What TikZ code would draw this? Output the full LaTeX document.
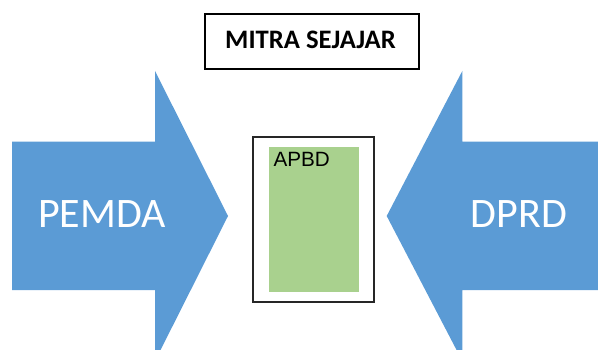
\documentclass[tikz,border=0pt]{standalone}
\usepackage{fontspec}
\setmainfont{Carlito}
\newfontfamily\arialfont{Liberation Sans}
\usetikzlibrary{positioning}
\definecolor{cBlue}{RGB}{91,155,213}
\definecolor{cGreen}{RGB}{169,209,142}
\tikzset{
  bigarrow/.style={fill=cBlue,draw=none},
  arrowtext/.style={text=white,inner sep=0pt,anchor=base west,
                    font=\fontsize{31.5}{36}\selectfont},
  titlebox/.style={rectangle,draw=black,line width=1.2pt,
                   minimum width=160.5pt,minimum height=41.25pt},
  titletext/.style={inner sep=0pt,anchor=base,
                    font=\bfseries\fontsize{20}{24}\selectfont},
  framebox/.style={rectangle,draw=black!85,line width=1.2pt,
                   minimum width=90.75pt,minimum height=123.75pt},
  apbdbox/.style={rectangle,fill=cGreen,draw=none,
                  minimum width=67.5pt,minimum height=108.5pt},
  apbdtext/.style={inner sep=0pt,anchor=base west,
                   font=\arialfont\fontsize{15.5}{18}\selectfont}
}
\begin{document}
\begin{tikzpicture}[x=0.75pt,y=-0.75pt]
  \useasboundingbox (0,0) rectangle (598,349);

  % arrows from both sides
  \fill[bigarrow] (12,141.7) -- (155,141.7) -- (155,71) -- (228,216)
    -- (155,361) -- (155,290) -- (12,290) -- cycle;
  \fill[bigarrow] (598,141.7) -- (462.3,141.7) -- (462.3,71) -- (386.7,216)
    -- (462.3,361) -- (462.3,290) -- (598,290) -- cycle;
  \node[arrowtext] (pemda) at (38,227.7) {PEMDA};
  \node[arrowtext] (dprd) at (470.7,227.7) {DPRD};

  % title
  \node[titlebox] (title) at (312,41.5) {};
  \node[titletext] (titlelbl) at (310.5,48.3) {MITRA SEJAJAR};

  % APBD in the middle
  \node[framebox] (frame) at (313.2,219.2) {};
  \node[apbdbox] (apbd) at (314,219.3) {};
  \node[apbdtext] (apbdlbl) at (273.3,166.5) {APBD};
\end{tikzpicture}
\end{document}
